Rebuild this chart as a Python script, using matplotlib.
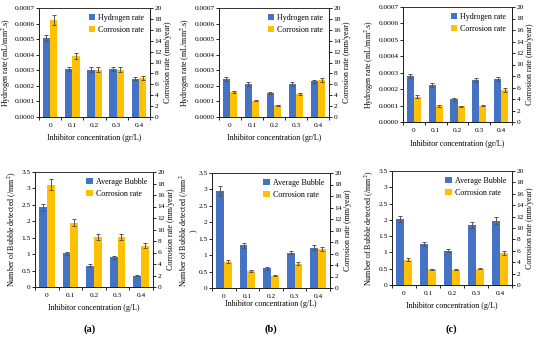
import matplotlib
matplotlib.use("Agg")
import matplotlib.pyplot as plt
import numpy as np
from matplotlib.ticker import FixedLocator, FuncFormatter

plt.rcParams['font.family'] = ['Liberation Serif', 'DejaVu Serif']
plt.rcParams['mathtext.fontset'] = 'stix'

conc = ["0", "0.1", "0.2", "0.3", "0.4"]

# top row: hydrogen rate (left axis) + corrosion rate (right axis)
h2_a = [0.000505, 0.000310, 0.000305, 0.000308, 0.000247]
h2_a_err = [0.00002, 0.000013, 0.000013, 0.000013, 0.00001]
h2_b = [0.000243, 0.000210, 0.000155, 0.000212, 0.000228]
h2_b_err = [0.000012, 0.000012, 0.000008, 0.000012, 0.000012]
h2_c = [0.000280, 0.000225, 0.000137, 0.000257, 0.000262]
h2_c_err = [0.000014, 0.000012, 0.000008, 0.000012, 0.000012]

cr_a = [17.8, 11.2, 8.7, 8.7, 7.2]
cr_a_err = [0.9, 0.6, 0.5, 0.5, 0.4]
cr_b = [4.6, 3.0, 2.15, 4.2, 6.8]
cr_b_err = [0.25, 0.15, 0.1, 0.25, 0.35]
cr_c = [4.4, 2.75, 2.7, 2.85, 5.6]
cr_c_err = [0.25, 0.12, 0.12, 0.12, 0.3]

# bottom row: average bubble (left axis) + corrosion rate (right axis)
bub_a = [2.42, 1.03, 0.65, 0.90, 0.35]
bub_a_err = [0.12, 0.05, 0.04, 0.05, 0.02]
bub_b = [2.95, 1.30, 0.60, 1.08, 1.23]
bub_b_err = [0.15, 0.07, 0.04, 0.06, 0.07]
bub_c = [2.02, 1.25, 1.05, 1.84, 1.98]
bub_c_err = [0.1, 0.06, 0.05, 0.09, 0.1]

BLUE = "#4472C4"
GOLD = "#FFC000"
TFS = 5.3   # tick labels
LFS = 5.8   # axis labels / legend

fig = plt.figure(figsize=(5.5, 3.38), dpi=100)


def px(l, t, r, b):
    return [l / 550, 1 - b / 338, (r - l) / 550, (b - t) / 338]


def panel(rect, left, left_err, right, right_err, left_name, ylab, lmax, lstep,
          lfmt, xlab, xpad=5, ypad=1.5):
    ax = fig.add_axes(px(*rect))
    ax2 = ax.twinx()
    x = np.arange(len(conc))
    w = 0.33
    ekw = dict(ecolor="#555555", elinewidth=0.7, capsize=1.6, capthick=0.7)
    b1 = ax.bar(x - w / 2, left, w, yerr=left_err, color=BLUE, error_kw=ekw,
                zorder=2)
    b2 = ax2.bar(x + w / 2, right, w, yerr=right_err, color=GOLD, error_kw=ekw,
                 zorder=2)
    ax.set_xlim(-0.5, len(conc) - 0.5)
    ax.set_ylim(0, lmax)
    ax.yaxis.set_major_locator(FixedLocator(np.arange(0, lmax + lstep / 2, lstep)))
    ax.yaxis.set_major_formatter(FuncFormatter(lfmt))
    ax2.set_ylim(0, 20)
    ax2.yaxis.set_major_locator(FixedLocator(np.arange(0, 21, 2)))
    ax.set_xticks(x)
    ax.set_xticklabels(conc)
    ax.set_xticks(np.arange(-0.5, len(conc)), minor=True)
    ax.tick_params(axis="x", which="major", length=0, labelsize=TFS, pad=4)
    ax.tick_params(axis="x", which="minor", length=2.5, width=0.6, direction="out")
    ax.tick_params(axis="y", length=2.2, width=0.6, labelsize=TFS, pad=1)
    ax2.tick_params(axis="y", length=2.2, width=0.6, labelsize=TFS, pad=1)
    for a in (ax, ax2):
        for s in ("left", "right", "bottom", "top"):
            a.spines[s].set_linewidth(0.7)
            a.spines[s].set_color("#222222")
        a.spines["top"].set_linewidth(0.5)
    ax.set_ylabel(ylab, fontsize=LFS, labelpad=ypad, linespacing=0.85)
    ax2.set_ylabel("Corrosion rate (mm/year)", fontsize=LFS, labelpad=1.5)
    ax.set_xlabel(xlab, fontsize=LFS, labelpad=xpad)
    ax.legend([b1, b2], [left_name, "Corrosion rate"], loc="upper right",
              frameon=False, fontsize=LFS, handlelength=0.8, handleheight=0.8,
              handletextpad=0.4, labelspacing=0.5, borderaxespad=0.3)
    return ax


h2fmt = lambda v, p: f"{v:.4f}"
bubfmt = lambda v, p: f"{v:g}"
h2lab = r"Hydrogen rate (mL/mm$^2$.s)"
xg = "Inhibitor concentration (gr/L)"
xgl = "Inhibitor concentration (g/L)"

panel((39, 8, 150, 117), h2_a, h2_a_err, cr_a, cr_a_err, "Hydrogen rate",
      h2lab, 0.0007, 0.0001, h2fmt, xg, ypad=0.8)
panel((219, 8, 329, 117), h2_b, h2_b_err, cr_b, cr_b_err, "Hydrogen rate",
      h2lab, 0.0007, 0.0001, h2fmt, xg)
panel((403, 7, 512, 122), h2_c, h2_c_err, cr_c, cr_c_err, "Hydrogen rate",
      h2lab, 0.0007, 0.0001, h2fmt, xg)

panel((35, 172, 153, 287), bub_a, bub_a_err, cr_a, cr_a_err, "Average Bubble",
      r"Number of Bubble detected (/mm$^2$)", 3.5, 0.5, bubfmt, xgl)
panel((212, 173, 330, 288), bub_b, bub_b_err, cr_b, cr_b_err, "Average Bubble",
      "Number of Bubble detected (/mm$^2$\n)", 3.5, 0.5, bubfmt, xgl,
      xpad=1, ypad=0.3)
panel((392, 171, 512, 285), bub_c, bub_c_err, cr_c, cr_c_err, "Average Bubble",
      r"Number of Bubble detected (/mm$^2$)", 3.5, 0.5, bubfmt, xgl)

for xc, lab in ((90, "(a)"), (271, "(b)"), (451, "(c)")):
    fig.text(xc / 550, 1 - 329 / 338, lab, ha="center", va="center",
             fontsize=7.5, fontweight="bold")

fig.savefig("out.png", dpi=100)
